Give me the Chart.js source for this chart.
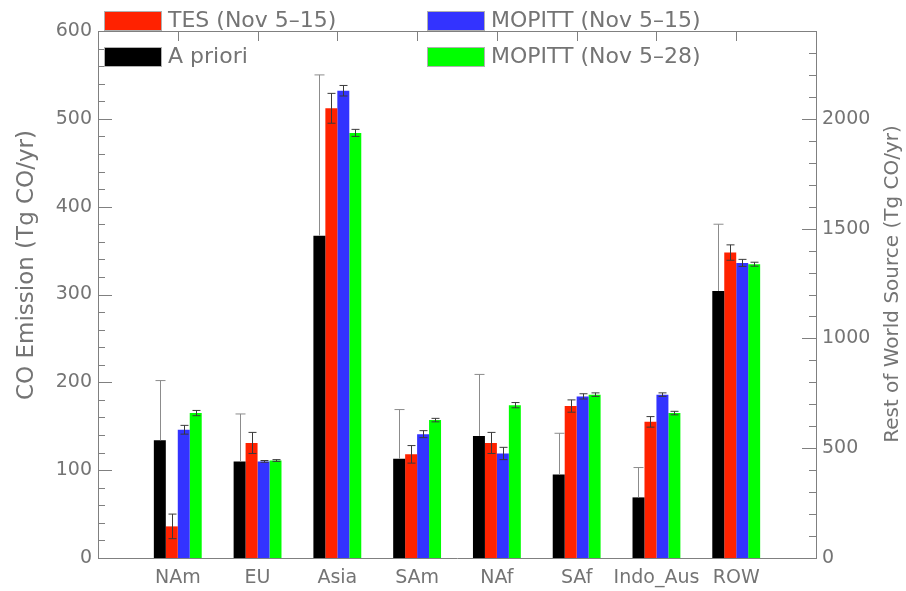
<!DOCTYPE html>
<html>
<head>
<meta charset="utf-8">
<script src="https://cdn.jsdelivr.net/npm/chart.js@4"></script>
<style>
  body { margin: 0; background: #fff; }
</style>
</head>
<body>
<canvas id="coChart" width="906" height="591"></canvas>
<script>
// Regions on the left axis, ROW on the right axis
const regions = ['NAm', 'EU', 'Asia', 'SAm', 'NAf', 'SAf', 'Indo_Aus'];
const rowName = 'ROW';

const seriesNames = ['A priori', 'TES (Nov 5–15)', 'MOPITT (Nov 5–15)', 'MOPITT (Nov 5–28)'];
const seriesColors = ['#000000', '#ff2200', '#3333ff', '#00ff00'];

// Regional CO emission, Tg CO/yr
const aprioriVals = [134, 110, 367, 113, 139, 95, 69];
const aprioriErr  = [68, 54, 183, 56, 70, 47, 34];
const tesVals     = [36, 131, 512, 118, 131, 173, 155];
const tesErr      = [14, 12, 17, 10, 12, 7, 6];
const mop15Vals   = [146, 110, 532, 141, 119, 184, 186];
const mop15Err    = [5, 1, 6, 4, 7, 3, 2];
const mop28Vals   = [165, 111, 484, 157, 174, 186, 165];
const mop28Err    = [3, 1, 4, 2, 3, 2, 2];

// Rest of world source, Tg CO/yr (a priori, TES, MOPITT 5-15, MOPITT 5-28)
const rowVals = [1216, 1391, 1344, 1338];
const rowErr  = [304, 35, 16, 9];

// axis ranges and tick labels
const leftMax = 600, leftStep = 100;
const rightMax = 2400, rightStep = 500;
const rightTicks = [0, 500, 1000, 1500, 2000];

const textColor = '#747474';
const axisColor = '#808080';
const fontFamily = "'DejaVu Sans', sans-serif";

// one empty slot on each side of the categories
const labels = ['', ...regions, rowName, ''];
const pad = (arr) => [null, ...arr, null, null];
const rowOnly = (v) => labels.map(l => (l === rowName ? v : null));

const regionVals = [aprioriVals, tesVals, mop15Vals, mop28Vals];
const regionErr = [aprioriErr, tesErr, mop15Err, mop28Err];

const datasets = [];
for (let i = 0; i < 4; i++) {
    datasets.push({
        label: seriesNames[i],
        data: pad(regionVals[i]),
        err: pad(regionErr[i]),
        oneSided: i === 0,
        backgroundColor: seriesColors[i],
        yAxisID: 'y'
    });
}
for (let i = 0; i < 4; i++) {
    datasets.push({
        label: seriesNames[i],
        data: rowOnly(rowVals[i]),
        err: rowOnly(rowErr[i]),
        oneSided: i === 0,
        backgroundColor: seriesColors[i],
        yAxisID: 'y2'
    });
}

// error bars drawn on top of the bars
const errorBars = {
    id: 'errorBars',
    afterDatasetsDraw(chart) {
        const ctx = chart.ctx;
        ctx.save();
        ctx.lineWidth = 1;
        chart.data.datasets.forEach((ds, di) => {
            const meta = chart.getDatasetMeta(di);
            const scale = chart.scales[ds.yAxisID];
            meta.data.forEach((bar, i) => {
                const v = ds.data[i], e = ds.err[i];
                if (v == null || e == null) return;
                const x = Math.round(bar.x) + 0.5;
                const top = scale.getPixelForValue(v + e);
                const bot = ds.oneSided ? bar.y : scale.getPixelForValue(v - e);
                const cap = ds.oneSided ? 5 : 4;
                ctx.strokeStyle = ds.oneSided ? '#8c8c8c' : '#3a3a3a';
                ctx.beginPath();
                ctx.moveTo(x, top);
                ctx.lineTo(x, bot);
                ctx.moveTo(x - cap, top);
                ctx.lineTo(x + cap, top);
                if (!ds.oneSided) {
                    ctx.moveTo(x - cap, bot);
                    ctx.lineTo(x + cap, bot);
                }
                ctx.stroke();
            });
        });
        ctx.restore();
    }
};

// inward ticks, top axis line, axis titles and the legend
const frame = {
    id: 'frame',
    afterDraw(chart) {
        const ctx = chart.ctx;
        const area = chart.chartArea;
        const y = chart.scales.y, y2 = chart.scales.y2, x = chart.scales.x;
        ctx.save();
        ctx.strokeStyle = axisColor;
        ctx.lineWidth = 1;
        ctx.beginPath();
        // top axis
        ctx.moveTo(area.left, area.top + 0.5);
        ctx.lineTo(area.right, area.top + 0.5);
        for (let i = 1; i <= regions.length + 1; i++) {
            const px = Math.round(x.getPixelForValue(i)) + 0.5;
            ctx.moveTo(px, area.top);
            ctx.lineTo(px, area.top + 10);
        }
        // left ticks
        for (let v = 0; v <= leftMax; v += leftStep / 5) {
            const py = Math.round(y.getPixelForValue(v)) + 0.5;
            const len = v % leftStep === 0 ? 14 : 7;
            ctx.moveTo(area.left, py);
            ctx.lineTo(area.left + len, py);
        }
        // right ticks
        for (let v = 0; v <= rightMax; v += rightStep / 5) {
            const py = Math.round(y2.getPixelForValue(v)) + 0.5;
            const len = v % rightStep === 0 ? 14 : 7;
            ctx.moveTo(area.right, py);
            ctx.lineTo(area.right - len, py);
        }
        ctx.stroke();

        // axis titles, both reading bottom to top
        ctx.fillStyle = textColor;
        ctx.textAlign = 'center';
        ctx.textBaseline = 'middle';
        ctx.save();
        ctx.font = '23px ' + fontFamily;
        ctx.translate(27, 265);
        ctx.rotate(-Math.PI / 2);
        ctx.fillText('CO Emission (Tg CO/yr)', 0, 0);
        ctx.restore();
        ctx.save();
        ctx.font = '20px ' + fontFamily;
        ctx.translate(893, 284);
        ctx.rotate(-Math.PI / 2);
        ctx.fillText('Rest of World Source (Tg CO/yr)', 0, 0);
        ctx.restore();

        // legend: 2 x 2
        const spots = [
            { i: 1, bx: 105, by: 12, tx: 168 },
            { i: 2, bx: 428, by: 12, tx: 491 },
            { i: 0, bx: 105, by: 48, tx: 168 },
            { i: 3, bx: 428, by: 48, tx: 491 }
        ];
        ctx.font = '22px ' + fontFamily;
        ctx.textAlign = 'left';
        spots.forEach(s => {
            const ds = chart.data.datasets[s.i];
            ctx.fillStyle = ds.backgroundColor;
            ctx.fillRect(s.bx, s.by, 56, 18);
            ctx.strokeStyle = '#b0b0b0';
            ctx.strokeRect(s.bx - 0.5, s.by - 0.5, 57, 19);
            ctx.fillStyle = textColor;
            ctx.fillText(ds.label, s.tx, s.by + 9);
        });
        ctx.restore();
    }
};

const coConfig = {
    type: 'bar',
    data: { labels: labels, datasets: datasets },
    options: {
        responsive: false,
        animation: false,
        skipNull: true,
        barPercentage: 1.0,
        categoryPercentage: 0.6,
        layout: { padding: { top: 31 } },
        plugins: {
            legend: { display: false },
            tooltip: { enabled: false }
        },
        scales: {
            x: {
                offset: false,
                grid: { display: false, drawTicks: false },
                border: { display: true, color: axisColor },
                ticks: {
                    color: textColor,
                    font: { family: fontFamily, size: 19 },
                    autoSkip: false,
                    maxRotation: 0,
                    padding: 9
                },
                afterFit(scale) { scale.height = 33; }
            },
            y: {
                position: 'left',
                min: 0,
                max: leftMax,
                grid: { display: false, drawTicks: false },
                border: { display: true, color: axisColor },
                ticks: {
                    stepSize: leftStep,
                    color: textColor,
                    font: { family: fontFamily, size: 19 },
                    padding: 6,
                    callback: (v) => String(v)
                },
                afterFit(scale) { scale.width = 98; }
            },
            y2: {
                position: 'right',
                min: 0,
                max: rightMax,
                grid: { display: false, drawTicks: false },
                border: { display: true, color: axisColor },
                ticks: {
                    color: textColor,
                    font: { family: fontFamily, size: 19 },
                    padding: 6,
                    callback: (v) => String(v)
                },
                afterBuildTicks(scale) {
                    scale.ticks = rightTicks.map(v => ({ value: v }));
                },
                afterFit(scale) { scale.width = 90; }
            }
        }
    },
    plugins: [errorBars, frame]
};

const coChart = new Chart(document.getElementById('coChart'), coConfig);
</script>
</body>
</html>
